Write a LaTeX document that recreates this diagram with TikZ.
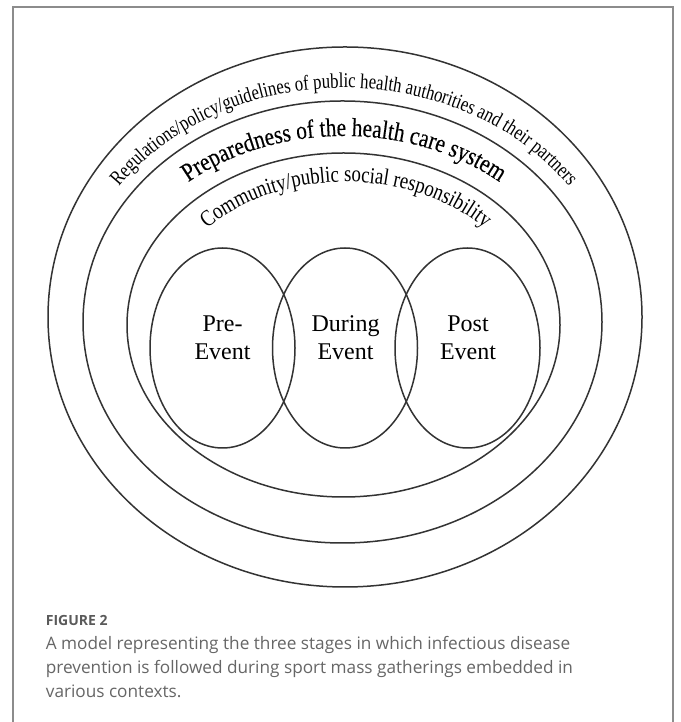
\documentclass[tikz,border=0pt]{standalone}
\usepackage{fontspec}
\setmainfont{Liberation Serif}
\newfontfamily\ringfont[FakeStretch=0.8]{Liberation Serif}
\newfontfamily\ringfontB[FakeStretch=0.82,FakeBold=0.25]{Liberation Serif}
\newfontfamily\ringfontC[FakeStretch=0.82]{Liberation Serif}
\newfontfamily\capfont{Open Sans}
\usetikzlibrary{shapes.geometric,decorations.text}
\definecolor{ringcol}{HTML}{333333}
\definecolor{framecol}{HTML}{8C8C8C}
\definecolor{capcol}{HTML}{666666}
\definecolor{figcol}{HTML}{5A5A5A}
\tikzset{
  ring/.style={draw=ringcol, line width=1.5pt},
  venn/.style={ellipse, draw=ringcol, line width=1.5pt, minimum width=145pt, minimum height=200pt, inner sep=0pt},
  lbl/.style={inner sep=0pt, anchor=base, text=black, font=\fontsize{24}{28}\selectfont},
  captxt/.style={inner sep=0pt, anchor=base west, text=capcol, font=\capfont\fontsize{17.2}{20}\selectfont},
  capfig/.style={inner sep=0pt, anchor=base west, text=figcol, font=\capfont\bfseries\fontsize{14}{18}\selectfont},
}
\begin{document}
\begin{tikzpicture}[x=1pt,y=1pt]
\useasboundingbox (0,0) rectangle (680,722);
\fill[white] (0,0) rectangle (680,722);
% frame
\draw[framecol, line width=2pt] (12.7,0) -- (12.7,715) -- (673,715) -- (673,0);
% nested ellipses
\draw[ring] (345,405) ellipse [x radius=297, y radius=270];
\draw[ring] (342.5,400) ellipse [x radius=259.5, y radius=221];
\draw[ring] (343.5,397) ellipse [x radius=216.5, y radius=172];
% ring texts
\path[decorate, decoration={text along path, text align=center,
  text={|\ringfont\fontsize{21}{24}\selectfont|Regulations/policy/guidelines of public health authorities and their partners}}]
  ([shift={(160:275 and 232)}]344,402) arc [start angle=160, end angle=20, x radius=275, y radius=232];
\path[decorate, decoration={text along path, text align=center,
  text={|\ringfontB\fontsize{26}{29}\selectfont|Preparedness of the health care system}}]
  ([shift={(150:236 and 186)}]344,400) arc [start angle=150, end angle=30, x radius=236, y radius=186];
\path[decorate, decoration={text along path, text align=center,
  text={|\ringfontC\fontsize{23}{26}\selectfont|Community/public social responsibility}}]
  ([shift={(150:188 and 143)}]346,397) arc [start angle=150, end angle=30, x radius=188, y radius=143];
% Venn ellipses
\node[venn] (pre) at (222.5,374) {};
\node[venn] (during) at (345,374) {};
\node[venn] (post) at (467.5,374) {};
\node[lbl] (preA) at (222.5,390) {Pre-};
\node[lbl] (preB) at (222.5,362) {Event};
\node[lbl] (durA) at (345.5,390) {During};
\node[lbl] (durB) at (345.5,362) {Event};
\node[lbl] (postA) at (468,390) {Post};
\node[lbl] (postB) at (468,362) {Event};
% caption
\node[capfig] (fig) at (45.7,96) {FIGURE 2};
\node[captxt] (cap1) at (45.7,72) {A model representing the three stages in which infectious disease};
\node[captxt] (cap2) at (45.7,48) {prevention is followed during sport mass gatherings embedded in};
\node[captxt] (cap3) at (45.7,24) {various contexts.};
\end{tikzpicture}
\end{document}
